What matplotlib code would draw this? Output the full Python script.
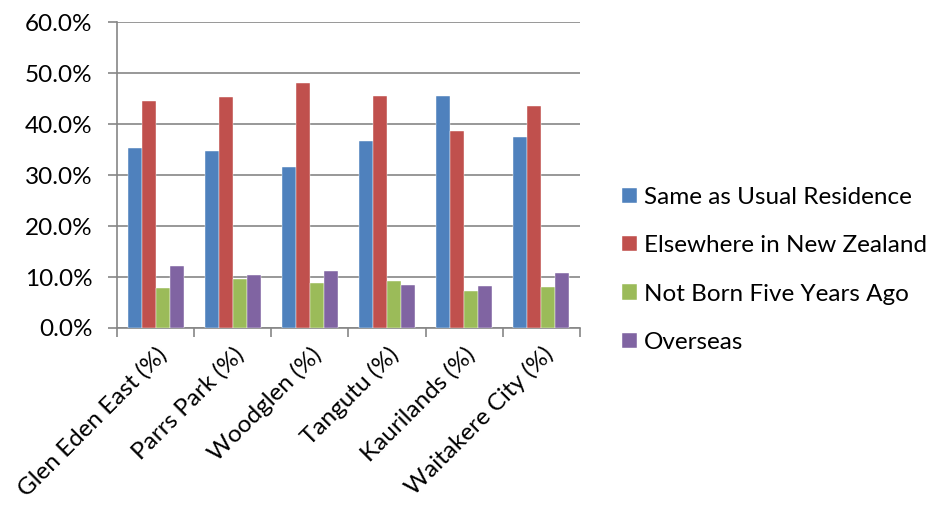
import numpy as np
import matplotlib.pyplot as plt
from matplotlib.ticker import FuncFormatter

plt.rcParams['font.family'] = ['Lato', 'DejaVu Sans']

areas = ["Glen Eden East (%)", "Parrs Park (%)", "Woodglen (%)",
         "Tangutu (%)", "Kaurilands (%)", "Waitakere City (%)"]
same_res = [35.2, 34.7, 31.6, 36.6, 45.4, 37.4]
elsewhere_nz = [44.6, 45.2, 48.1, 45.5, 38.7, 43.6]
not_born = [7.8, 9.7, 8.8, 9.3, 7.3, 8.0]
overseas = [12.2, 10.3, 11.2, 8.5, 8.2, 10.7]

series = [
    ("Same as Usual Residence", same_res, "#4f81bd"),
    ("Elsewhere in New Zealand", elsewhere_nz, "#c0504d"),
    ("Not Born Five Years Ago", not_born, "#9bbb59"),
    ("Overseas", overseas, "#8064a2"),
]

fs = 17.5
fig = plt.figure(figsize=(9.29, 5.11), dpi=100)
ax = fig.add_axes([117/929, 1-328/511, (580-117)/929, (328-22)/511])

x = np.arange(len(areas))
w = 1/5.5
for i, (name, vals, col) in enumerate(series):
    ax.bar(x + (i - 1.5)*w, vals, w, color=col, label=name, zorder=3,
           edgecolor='white', linewidth=0.3)

ax.set_xlim(-0.5, len(areas) - 0.5)
ax.set_ylim(0, 60)
ax.set_yticks(np.arange(0, 61, 10))
ax.yaxis.set_major_formatter(FuncFormatter(lambda v, p: f"{v:.1f}%"))
ax.grid(axis='y', color='#868686', linewidth=1.2, zorder=0)
for s in ['top', 'right']:
    ax.spines[s].set_visible(False)
for s in ['left', 'bottom']:
    ax.spines[s].set_color('#868686')
    ax.spines[s].set_linewidth(1.2)
ax.tick_params(axis='y', length=6.5, color='#868686', width=1.2, labelsize=fs, pad=11)

ax.set_xticks(x)
ax.set_xticklabels(areas, rotation=45, ha='right', rotation_mode='anchor', fontsize=fs)
ax.tick_params(axis='x', length=0, pad=11)
ax.set_xticks(np.arange(-0.5, len(areas)), minor=True)
ax.tick_params(axis='x', which='minor', length=6.5, color='#868686', width=1.2)

ax.legend(loc='center left', bbox_to_anchor=(622/929, 1-270/511),
          bbox_transform=fig.transFigure, frameon=False, borderpad=0,
          borderaxespad=0, fontsize=fs, handlelength=0.6, handleheight=0.6,
          labelspacing=1.13, handletextpad=0.3)

fig.savefig("out.png", dpi=100)
